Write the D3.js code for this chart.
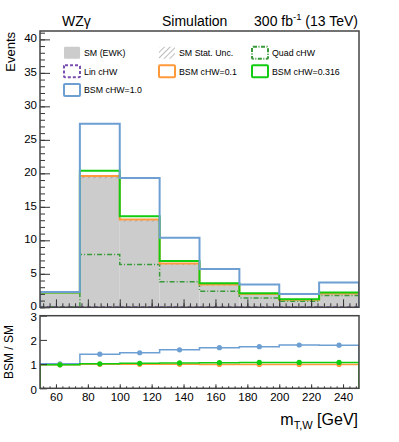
<!DOCTYPE html>
<html>
<head>
<meta charset="utf-8">
<script src="https://cdn.jsdelivr.net/npm/d3@7"></script>
<style>
body { margin: 0; background: #fff; }
text { font-family: "Liberation Sans", Arial, sans-serif; fill: #000; }
</style>
</head>
<body>
<svg id="chart" width="399" height="442"></svg>
<script>
// bin edges in m_T,W [GeV]
const binEdges = [50, 75, 100, 125, 150, 175, 200, 225, 250]

// event yields per bin
const smEwk = [2.25, 19.5, 13.0, 6.45, 3.3, 1.95, 1.08, 2.0]
const smStatUnc = [0.08, 0.25, 0.2, 0.12, 0.08, 0.06, 0.05, 0.06]
const linCHW = [0.02, 0.02, 0.02, 0.02, 0.02, 0.02, 0.02, 0.02]
const quadCHW = [0.05, 7.9, 6.4, 3.8, 2.4, 1.4, 0.9, 1.75]
const bsm01 = [2.22, 19.6, 13.1, 6.55, 3.4, 2.0, 1.12, 2.05]
const bsm0316 = [2.2, 20.4, 13.6, 6.9, 3.6, 2.1, 1.2, 2.2]
const bsm10 = [2.3, 27.4, 19.3, 10.4, 5.7, 3.4, 2.0, 3.7]

// BSM / SM ratios per bin
const ratio01 = [0.97, 0.99, 0.99, 0.99, 0.985, 0.985, 0.985, 0.985]
const ratio0316 = [0.97, 1.01, 1.03, 1.05, 1.06, 1.07, 1.07, 1.07]
const ratio10 = [1.01, 1.41, 1.47, 1.59, 1.68, 1.72, 1.79, 1.78]

const mainTicks = [0, 5, 10, 15, 20, 25, 30, 35, 40]
const ratioTicks = [0, 1, 2, 3]
const xTicks = [60, 80, 100, 120, 140, 160, 180, 200, 220, 240]

const colors = {
  sm: '#cccccc',
  hatch: '#777777',
  lin: '#7a4fb0',
  quad: '#3a9a3a',
  bsm01: '#ff9a3c',
  bsm0316: '#11cc11',
  bsm10: '#6d9fd2'
}

const svg = d3.select('#chart')
const left = 40, right = 359
const mainTop = 31, mainBottom = 307.3
const ratioTop = 315.7, ratioBottom = 388.3

const x = d3.scaleLinear().domain([50, 250]).range([left, right])
const y = d3.scaleLinear().domain([0, 41.25]).range([mainBottom, mainTop])
const yr = d3.scaleLinear().domain([0, 3]).range([ratioBottom, ratioTop])

const defs = svg.append('defs')
const hatch = defs.append('pattern')
  .attr('id', 'hatch')
  .attr('patternUnits', 'userSpaceOnUse')
  .attr('width', 4).attr('height', 4)
  .attr('patternTransform', 'rotate(45)')
hatch.append('line')
  .attr('x1', 0).attr('y1', 0).attr('x2', 0).attr('y2', 4)
  .attr('stroke', colors.hatch).attr('stroke-width', 1)

defs.append('clipPath').attr('id', 'clipMain')
  .append('rect').attr('x', left).attr('y', mainTop)
  .attr('width', right - left).attr('height', mainBottom - mainTop)
defs.append('clipPath').attr('id', 'clipRatio')
  .append('rect').attr('x', left).attr('y', ratioTop)
  .attr('width', right - left).attr('height', ratioBottom - ratioTop)

const bins = d3.range(binEdges.length - 1)

function stepPoints(values, yScale) {
  const pts = [[x(binEdges[0]), yScale(0)]]
  values.forEach((v, i) => {
    pts.push([x(binEdges[i]), yScale(v)])
    pts.push([x(binEdges[i + 1]), yScale(v)])
  })
  pts.push([x(binEdges[binEdges.length - 1]), yScale(0)])
  return pts
}
const line = d3.line()

// ---- main panel ----
const main = svg.append('g').attr('clip-path', 'url(#clipMain)')

main.selectAll('rect.sm').data(bins).enter()
  .append('rect').attr('class', 'sm')
  .attr('x', i => x(binEdges[i]))
  .attr('width', i => x(binEdges[i + 1]) - x(binEdges[i]))
  .attr('y', i => y(smEwk[i]))
  .attr('height', i => y(0) - y(smEwk[i]))
  .attr('fill', colors.sm)

main.selectAll('rect.unc').data(bins).enter()
  .append('rect').attr('class', 'unc')
  .attr('x', i => x(binEdges[i]))
  .attr('width', i => x(binEdges[i + 1]) - x(binEdges[i]))
  .attr('y', i => y(smEwk[i] + smStatUnc[i]))
  .attr('height', i => y(smEwk[i] - smStatUnc[i]) - y(smEwk[i] + smStatUnc[i]))
  .attr('fill', 'url(#hatch)')

const mainSeries = [
  { values: quadCHW, color: colors.quad, dash: '5,2,1,2', width: 1.5 },
  { values: linCHW, color: colors.lin, dash: '4,3', width: 2 },
  { values: bsm01, color: colors.bsm01, dash: null, width: 2 },
  { values: bsm0316, color: colors.bsm0316, dash: null, width: 2 },
  { values: bsm10, color: colors.bsm10, dash: null, width: 2 }
]
mainSeries.forEach(s => {
  main.append('path')
    .attr('d', line(stepPoints(s.values, y)))
    .attr('fill', 'none')
    .attr('stroke', s.color)
    .attr('stroke-width', s.width)
    .attr('stroke-dasharray', s.dash)
})

// ---- ratio panel ----
const ratio = svg.append('g').attr('clip-path', 'url(#clipRatio)')
const ratioSeries = [
  { values: ratio10, color: colors.bsm10 },
  { values: ratio01, color: colors.bsm01 },
  { values: ratio0316, color: colors.bsm0316 }
]
ratioSeries.forEach(s => {
  ratio.append('path')
    .attr('d', line(stepPoints(s.values, yr)))
    .attr('fill', 'none')
    .attr('stroke', s.color)
    .attr('stroke-width', 1.5)
  ratio.selectAll(null).data(bins).enter()
    .append('circle')
    .attr('cx', i => x((binEdges[i] + binEdges[i + 1]) / 2))
    .attr('cy', i => yr(s.values[i]))
    .attr('r', 2.6)
    .attr('fill', s.color)
})

// ---- axes ----
function styleAxis(g) {
  g.select('.domain').remove()
  g.selectAll('line').attr('stroke', '#333').attr('stroke-width', 1)
  g.selectAll('text').attr('font-size', 11.5).attr('fill', '#000')
    .style('font-family', '"Liberation Sans", Arial, sans-serif')
}
const minorX = d3.range(52, 250, 4)

svg.append('g').attr('transform', `translate(${left},0)`)
  .call(d3.axisLeft(y).tickValues(d3.range(0, 42, 1)).tickSize(-5).tickFormat(''))
  .call(styleAxis)
svg.append('g').attr('transform', `translate(${left},0)`)
  .call(d3.axisLeft(y).tickValues(mainTicks).tickSize(-10).tickPadding(3).tickFormat(d3.format('d')))
  .call(styleAxis)
  .call(g => g.selectAll('text').attr('dy', '0.2em'))

svg.append('g').attr('transform', `translate(0,${mainBottom})`)
  .call(d3.axisBottom(x).tickValues(minorX).tickSize(-4).tickFormat(''))
  .call(styleAxis)
svg.append('g').attr('transform', `translate(0,${mainBottom})`)
  .call(d3.axisBottom(x).tickValues(xTicks).tickSize(-8).tickFormat(''))
  .call(styleAxis)

svg.append('g').attr('transform', `translate(${left},0)`)
  .call(d3.axisLeft(yr).tickValues(ratioTicks).tickSize(-7).tickPadding(3).tickFormat(d3.format('d')))
  .call(styleAxis)
  .call(g => g.selectAll('text').attr('dy', '0.42em'))

svg.append('g').attr('transform', `translate(0,${ratioBottom})`)
  .call(d3.axisBottom(x).tickValues(minorX).tickSize(-2).tickFormat(''))
  .call(styleAxis)
svg.append('g').attr('transform', `translate(0,${ratioBottom})`)
  .call(d3.axisBottom(x).tickValues(xTicks).tickSize(-4).tickPadding(5).tickFormat(d3.format('d')))
  .call(styleAxis)

// frames
svg.append('rect').attr('x', left).attr('y', mainTop)
  .attr('width', right - left).attr('height', mainBottom - mainTop)
  .attr('fill', 'none').attr('stroke', '#444').attr('stroke-width', 1.5)
svg.append('rect').attr('x', left).attr('y', ratioTop)
  .attr('width', right - left).attr('height', ratioBottom - ratioTop)
  .attr('fill', 'none').attr('stroke', '#444').attr('stroke-width', 1.5)

// ---- titles ----
svg.append('text').attr('transform', 'translate(15,32) rotate(-90)')
  .attr('text-anchor', 'end').attr('font-size', 13).text('Events')
svg.append('text').attr('transform', `translate(13,${(ratioTop + ratioBottom) / 2}) rotate(-90)`)
  .attr('text-anchor', 'middle').attr('font-size', 12).text('BSM / SM')

const xt = svg.append('text').attr('x', 358).attr('y', 425)
  .attr('text-anchor', 'end').attr('font-size', 16)
xt.append('tspan').text('m')
xt.append('tspan').attr('font-size', 11).attr('dy', 4).text('T,W')
xt.append('tspan').attr('dy', -4).text(' [GeV]')

svg.append('text').attr('x', 62).attr('y', 26).attr('font-size', 14).text('WZγ')
svg.append('text').attr('x', 162).attr('y', 26).attr('font-size', 14).text('Simulation')
const lumi = svg.append('text').attr('x', 358).attr('y', 26)
  .attr('text-anchor', 'end').attr('font-size', 14)
lumi.append('tspan').text('300 fb')
lumi.append('tspan').attr('font-size', 9.5).attr('dy', -6).text('-1')
lumi.append('tspan').attr('dy', 6).text(' (13 TeV)')

// ---- legend ----
const legendCols = [63, 158, 251]
const legendRows = [52.7, 71.3, 90]
const legendItems = [
  { label: 'SM (EWK)', col: 0, row: 0, fill: colors.sm, stroke: 'none' },
  { label: 'SM Stat. Unc.', col: 1, row: 0, fill: 'url(#hatch)', stroke: 'none' },
  { label: 'Quad cHW', col: 2, row: 0, fill: 'none', stroke: colors.quad, dash: '4,1.5,1,1.5' },
  { label: 'Lin cHW', col: 0, row: 1, fill: 'none', stroke: colors.lin, dash: '3,2' },
  { label: 'BSM cHW=0.1', col: 1, row: 1, fill: 'none', stroke: colors.bsm01 },
  { label: 'BSM cHW=0.316', col: 2, row: 1, fill: 'none', stroke: colors.bsm0316 },
  { label: 'BSM cHW=1.0', col: 0, row: 2, fill: 'none', stroke: colors.bsm10 }
]
const leg = svg.selectAll('g.leg').data(legendItems).enter()
  .append('g').attr('class', 'leg')
  .attr('transform', d => `translate(${legendCols[d.col]},${legendRows[d.row]})`)
leg.append('rect')
  .attr('x', 1).attr('y', -6).attr('width', 16).attr('height', 12)
  .attr('rx', 1)
  .attr('fill', d => d.fill)
  .attr('stroke', d => d.stroke)
  .attr('stroke-width', 2)
  .attr('stroke-dasharray', d => d.dash || null)
leg.append('text')
  .attr('x', 21).attr('y', 3.2)
  .attr('font-size', 8.8)
  .text(d => d.label)
</script>
</body>
</html>
